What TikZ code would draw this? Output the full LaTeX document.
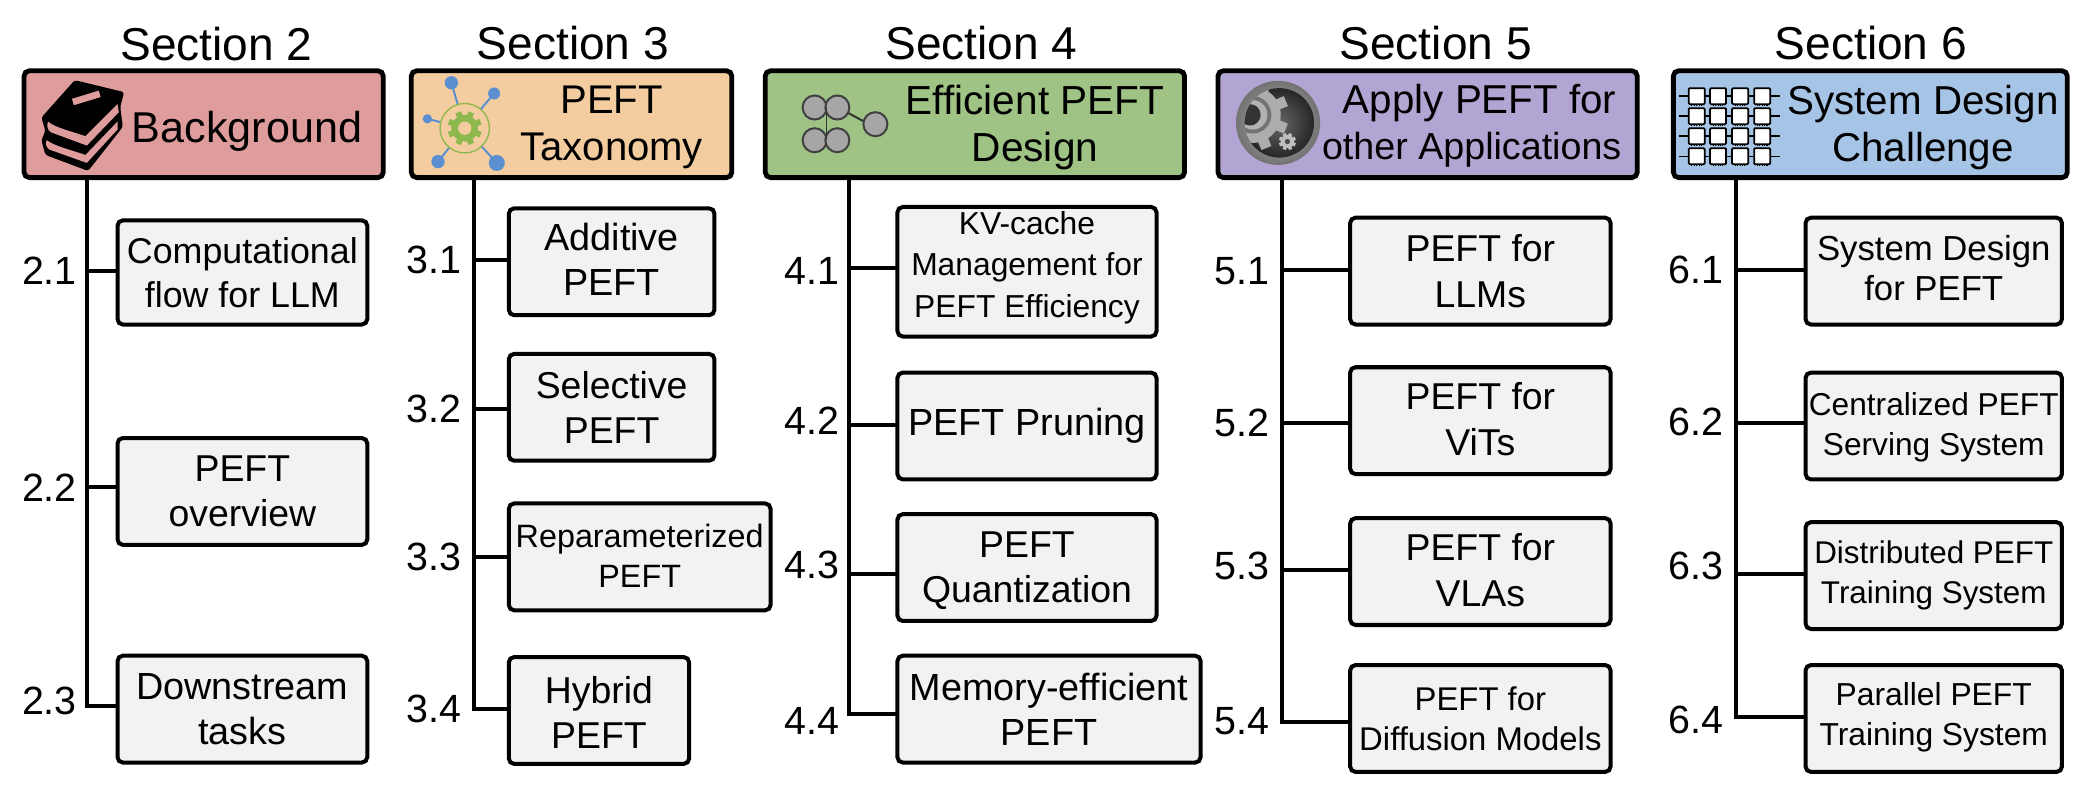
\documentclass[tikz,border=0pt]{standalone}
\usepackage{fontspec}
\setmainfont{Liberation Sans}
\usetikzlibrary{calc}
\definecolor{cpink}{HTML}{DF9C9C}
\definecolor{corange}{HTML}{F3CDA0}
\definecolor{cgreen}{HTML}{9EC384}
\definecolor{cpurple}{HTML}{B2A5D3}
\definecolor{cblue}{HTML}{A6C4E5}
\definecolor{cgrey}{HTML}{F2F2F2}
\definecolor{ibl}{HTML}{5B8FD0}
\definecolor{igr}{HTML}{8DB84E}
\tikzset{
  hdr/.style={draw=black,line width=3.6pt,rounded corners=4pt,inner sep=0pt},
  subbx/.style={draw=black,line width=3pt,fill=cgrey,rounded corners=4pt,inner sep=0pt},
  subtx/.style={inner sep=0pt,align=center},
  conn/.style={draw=black,line width=3pt,line cap=rect},
  sect/.style={inner sep=0pt,font=\fontsize{34.5}{40}\selectfont},
  num/.style={inner sep=0pt,font=\fontsize{29.5}{34}\selectfont},
  htext/.style={inner sep=0pt,align=center},
}
% name x1 y1 x2 y2 fontsize leading text-dy text
\newcommand{\subbx}[9]{%
  \pgfmathsetmacro{\bxw}{#4-#2}\pgfmathsetmacro{\bxh}{#5-#3}%
  \pgfmathsetmacro{\bxx}{(#2+#4)/2}\pgfmathsetmacro{\bxy}{(#3+#5)/2}%
  \node[subbx,minimum width=\bxw pt,minimum height=\bxh pt] (#1) at (\bxx,\bxy) {};
  \node[subtx,font=\fontsize{#6}{#7}\selectfont] (#1t) at ($(#1.center)+(0,#8)$) {#9};}
\newcommand{\hdrbx}[6]{%
  \pgfmathsetmacro{\bxw}{#4-#2}\pgfmathsetmacro{\bxh}{#5-#3}%
  \pgfmathsetmacro{\bxx}{(#2+#4)/2}\pgfmathsetmacro{\bxy}{(#3+#5)/2}%
  \node[hdr,fill=#6,minimum width=\bxw pt,minimum height=\bxh pt] (#1) at (\bxx,\bxy) {};}
% box spine dy
\newcommand{\branch}[3]{%
  \coordinate (brk) at ($(#1.west)+(0,#3)$);
  \draw[conn] (brk) -- (brk -| #2);}
\newcommand{\gearshape}[5]{% x y outer teeth-width color
  \fill[#5] (#1,#2) circle[radius=#3];
  \foreach \a in {0,45,...,315}{
    \fill[#5,shift={(#1,#2)},rotate=\a+22.5] (-#4,#3-1) rectangle (#4,#3+0.28*#3);
  }}
\begin{document}
\begin{tikzpicture}[x=1pt,y=-1pt]
\useasboundingbox (0,0) rectangle (1568,593);
% section titles
\node[sect] (s2) at (162,33) {Section 2};
\node[sect] (s3) at (429,32) {Section 3};
\node[sect] (s4) at (735,32) {Section 4};
\node[sect] (s5) at (1075,32) {Section 5};
\node[sect] (s6) at (1401,32) {Section 6};
% spine start points
\coordinate (sp1) at (65,133);
\coordinate (sp2) at (355,133);
\coordinate (sp3) at (636,133);
\coordinate (sp4) at (960,133);
\coordinate (sp5) at (1300,133);
% sub boxes
\subbx{b21}{88}{165}{275}{243}{26.8}{33}{0.5}{Computational\\flow for LLM}
\subbx{b22}{88}{328}{275}{408}{28}{34}{0}{PEFT\\overview}
\subbx{b23}{88}{491}{275}{571}{28.3}{34}{0}{Downstream\\tasks}
\subbx{b31}{381}{156}{535}{236}{28.3}{34}{-2}{Additive\\PEFT}
\subbx{b32}{381}{265}{535}{345}{28}{34}{0}{Selective\\PEFT}
\subbx{b33}{381}{377}{577}{457}{24.2}{30}{-0.5}{Reparameterized\\PEFT}
\subbx{b34}{381}{492}{516}{572}{28}{34}{1.5}{Hybrid\\PEFT}
\subbx{b41}{672}{155}{866}{252}{23.8}{31}{-3}{KV-cache\\Management for\\PEFT Efficiency}
\subbx{b42}{672}{279}{866}{359}{28.3}{34}{0}{PEFT Pruning}
\subbx{b43}{672}{385}{866}{465}{28}{34}{2.5}{PEFT\\Quantization}
\subbx{b44}{672}{491}{899}{571}{28.3}{34}{0}{Memory-efficient\\PEFT}
\subbx{b51}{1011}{163}{1206}{243}{28}{34}{0}{PEFT for\\LLMs}
\subbx{b52}{1011}{275}{1206}{355}{28}{34}{-1}{PEFT for\\ViTs}
\subbx{b53}{1011}{388}{1206}{468}{28}{34}{-1}{PEFT for\\VLAs}
\subbx{b54}{1011}{498}{1206}{578}{24.6}{30}{0}{PEFT for\\Diffusion Models}
\subbx{b61}{1352}{163}{1544}{243}{26}{30}{-2}{System Design\\for PEFT}
\subbx{b62}{1352}{279}{1544}{359}{23.7}{30}{1}{Centralized PEFT\\Serving System}
\subbx{b63}{1352}{391}{1544}{471}{23.5}{30}{0}{Distributed PEFT\\Training System}
\subbx{b64}{1352}{498}{1544}{578}{23.8}{30}{-1}{Parallel PEFT\\Training System}
% connectors
\branch{b21}{sp1}{-1}
\branch{b22}{sp1}{-3}
\branch{b23}{sp1}{-2}
\draw[conn] (sp1) -- (brk -| sp1);
\branch{b31}{sp2}{-1}
\branch{b32}{sp2}{1}
\branch{b33}{sp2}{0}
\branch{b34}{sp2}{-1}
\draw[conn] (sp2) -- (brk -| sp2);
\branch{b41}{sp3}{-2.5}
\branch{b42}{sp3}{-1}
\branch{b43}{sp3}{5}
\branch{b44}{sp3}{4}
\draw[conn] (sp3) -- (brk -| sp3);
\branch{b51}{sp4}{-1}
\branch{b52}{sp4}{2}
\branch{b53}{sp4}{-1}
\branch{b54}{sp4}{3}
\draw[conn] (sp4) -- (brk -| sp4);
\branch{b61}{sp5}{-1}
\branch{b62}{sp5}{-2}
\branch{b63}{sp5}{-1}
\branch{b64}{sp5}{-1}
\draw[conn] (sp5) -- (brk -| sp5);
% numbers
\node[num] (n21) at (37,203) {2.1};
\node[num] (n22) at (37,365) {2.2};
\node[num] (n23) at (37,525) {2.3};
\node[num] (n31) at (325,195) {3.1};
\node[num] (n32) at (325,306) {3.2};
\node[num] (n33) at (325,417) {3.3};
\node[num] (n34) at (325,531) {3.4};
\node[num] (n41) at (608,203) {4.1};
\node[num] (n42) at (608,315) {4.2};
\node[num] (n43) at (608,423) {4.3};
\node[num] (n44) at (608,540) {4.4};
\node[num] (n51) at (930,203) {5.1};
\node[num] (n52) at (930,317) {5.2};
\node[num] (n53) at (930,424) {5.3};
\node[num] (n54) at (930,540) {5.4};
\node[num] (n61) at (1270,202) {6.1};
\node[num] (n62) at (1270,316) {6.2};
\node[num] (n63) at (1270,424) {6.3};
\node[num] (n64) at (1270,539) {6.4};
% headers
\hdrbx{h1}{18}{53}{287}{133}{cpink}
\hdrbx{h2}{308}{53}{548}{133}{corange}
\hdrbx{h3}{573}{53}{887}{133}{cgreen}
\hdrbx{h4}{912}{53}{1226}{133}{cpurple}
\hdrbx{h5}{1253}{53}{1548}{133}{cblue}
\node[htext,font=\fontsize{32.3}{36}\selectfont] (t1) at (185,98) {Background};
\node[htext,font=\fontsize{30}{35}\selectfont] (t2) at (458,95.5) {PEFT\\Taxonomy};
\node[htext,font=\fontsize{30.4}{35}\selectfont] (t3) at (775,95.5) {Efficient PEFT\\Design};
\node[htext,font=\fontsize{30.2}{35}\selectfont] (t4a) at (1108,77) {Apply PEFT for};
\node[htext,font=\fontsize{28.2}{35}\selectfont] (t4b) at (1102,112) {other Applications};
\node[htext,font=\fontsize{30.2}{35}\selectfont] (t5) at (1440,95.5) {System Design\\Challenge};
% icon: books
\fill[black,rounded corners=2pt] (56,60) -- (93,69) -- (90,80) -- (92,95) -- (66,128) -- (34,116) -- (31,105) -- (34,98) -- (31,88) -- cycle;
\fill[cpink] (36,91) .. controls (40,95) and (52,98) .. (64,102) -- (88,78) -- (89,84) -- (65,109) -- (38,99) .. controls (35,97) and (35,93) .. (36,91) -- cycle;
\fill[cpink] (35,105) .. controls (40,109) and (52,112) .. (64,116) -- (88,91) -- (88,97) -- (65,122) -- (37,112) .. controls (34,110) and (34,107) .. (35,105) -- cycle;
\fill[cpink,rotate around={17:(64,73)}] (54,71) rectangle (75,76);
% icon: taxonomy gear
\foreach \px/\py/\pr in {338/62/5,370/70/4.5,320/89/3.5,328/121/5,372/122/6}{
  \draw[ibl,line width=1.5pt] (348,96) -- (\px,\py);
  \fill[ibl] (\px,\py) circle[radius=\pr];
}
\fill[corange] (348,96) circle[radius=18.5];
\draw[igr,line width=1pt] (348,96) circle[radius=18.5];
\gearshape{348}{96}{10}{2.2}{igr}
\fill[corange] (348,96) circle[radius=5];
% icon: network
\draw[black!80,line width=1.5pt] (634,84) -- (647,91);
\foreach \px/\py in {610/80.5,627/80.5,610/105,627/105,655.5/93}{
  \draw[black!75,fill=black!35,line width=1.5pt] (\px,\py) circle[radius=9];
}
\draw[black!80,line width=1.2pt] (619,80) -- (619,105);
% icon: sphere gear
\shade[inner color=black!30,outer color=black!55] (957,92) circle[radius=31.5];
\shade[inner color=black!60,outer color=black!85] (958,92) circle[radius=26];
\begin{scope}
  \clip (958,92) circle[radius=26];
  \gearshape{938}{86}{21}{4}{black!32}
  \fill[black!55] (938,86) circle[radius=14];
  \fill[black!30] (938,86) circle[radius=11];
  \fill[black!80] (936,86) circle[radius=8];
\end{scope}
\gearshape{964}{106}{5}{1.3}{black!25}
\fill[black!70] (964,106) circle[radius=2];
% icon: chip grid
\foreach \yy in {72,87,102,117}{
  \draw[black,line width=1.1pt] (1257,\yy) -- (1333,\yy);
  \foreach \xx in {1270.5,1286.5,1303,1319.5}{
    \draw[black,line width=0.8pt,densely dotted] (\xx-4,\yy+7) -- (\xx+4,\yy+7);
    \draw[black,line width=1.3pt,fill=white,rounded corners=0.8pt] (\xx-6,\yy-6) rectangle (\xx+6,\yy+6);
  }
}
\end{tikzpicture}
\end{document}
